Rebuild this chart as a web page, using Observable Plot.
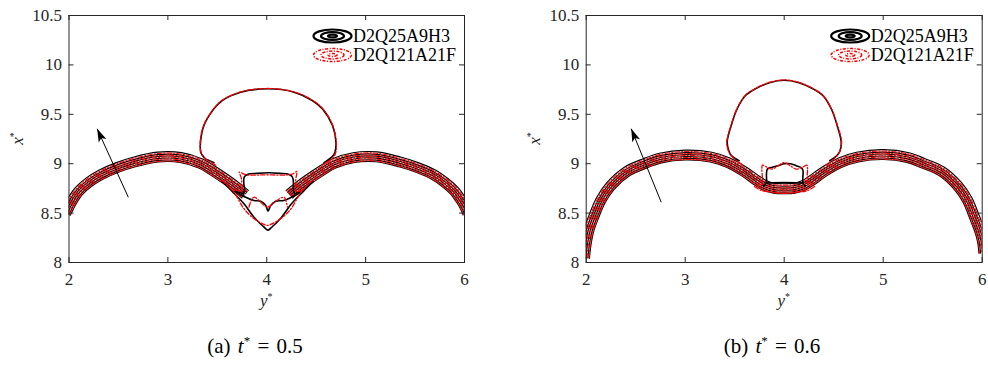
<!DOCTYPE html>
<html><head><meta charset="utf-8">
<script src="https://cdn.jsdelivr.net/npm/d3@7"></script>
<script src="https://cdn.jsdelivr.net/npm/@observablehq/plot@0.6"></script>
<style>
body{margin:0;background:#fff;}
#wrap{position:relative;width:988px;height:374px;overflow:hidden;font-family:'Liberation Serif','Times New Roman','DejaVu Serif',serif;}
.panel{position:absolute;top:0;}
.panel text{font-family:'Liberation Serif','Times New Roman','DejaVu Serif',serif;}
.cap{position:absolute;top:333px;font-size:21px;line-height:26px;word-spacing:2px;color:#000;white-space:nowrap;transform:translateX(-50%);}
.cap sup{font-size:13px;vertical-align:8px;line-height:0;}
</style></head><body>
<div id="wrap"></div>
<script>
// ---------- shared ----------
const xTicks = [2, 3, 4, 5, 6];
const yTicks = [8, 8.5, 9, 9.5, 10, 10.5];
const legendNames = ["D2Q25A9H3", "D2Q121A21F"];
const captionTags = ["(a)", "(b)"];
const captionTimes = ["0.5", "0.6"];
// contour levels across the interface band (perpendicular offsets, data units)
const bandBlackOffsets = [0.052, 0.027, 0.008, -0.012, -0.032, -0.048];
const bandRedOffsets = [0.038, 0.017, -0.002, -0.022, -0.042];

// ---------- panel (a) t* = 0.5 : points are [y*, x*] ----------
const bandLeftA = [[1.97,8.50],[2.0,8.56],[2.05,8.65],[2.1,8.72],[2.2,8.81],[2.32,8.885],[2.49,8.96],[2.66,9.015],[2.9,9.065],[3.13,9.06],[3.33,9.0],[3.45,8.93],[3.6,8.83],[3.72,8.74],[3.78,8.69]];
const bandRightA = [[4.23,8.69],[4.29,8.74],[4.41,8.83],[4.56,8.93],[4.68,9.0],[4.88,9.06],[5.11,9.068],[5.35,9.015],[5.52,8.96],[5.69,8.885],[5.8,8.81],[5.9,8.72],[5.95,8.65],[6.0,8.57],[6.03,8.50]];
const capA = [[3.466,9.01],[3.41,9.035],[3.38,9.05],[3.345,9.09],[3.332,9.117],[3.33,9.218],[3.365,9.387],[3.466,9.555],[3.55,9.64],[3.737,9.724],[4.007,9.758],[4.277,9.724],[4.46,9.64],[4.564,9.555],[4.665,9.387],[4.70,9.218],[4.69,9.117],[4.67,9.08],[4.63,9.045],[4.58,9.01]];
const capARed = [[3.485,8.985],[3.43,9.02],[3.38,9.048],[3.342,9.095],[3.327,9.218],[3.362,9.387],[3.464,9.557],[3.55,9.643],[3.737,9.727],[4.007,9.761],[4.277,9.727],[4.46,9.643],[4.566,9.557],[4.668,9.387],[4.703,9.218],[4.694,9.1],[4.655,9.045],[4.605,9.015],[4.56,8.985]];
const boxA = [[3.70,8.72],[3.76,8.70],[3.775,8.74],[3.768,8.80],[3.772,8.864],[3.804,8.891],[3.9,8.902],[4.023,8.908],[4.13,8.902],[4.226,8.891],[4.26,8.864],[4.27,8.80],[4.268,8.74],[4.285,8.70],[4.34,8.72]];
const wA = [[3.68,8.72],[3.77,8.668],[3.871,8.628],[3.939,8.621],[3.99,8.577],[4.013,8.52],[4.04,8.577],[4.091,8.621],[4.17,8.628],[4.25,8.66],[4.34,8.71]];
const vA = [[3.55,8.82],[3.65,8.72],[3.77,8.594],[3.871,8.459],[3.973,8.357],[4.013,8.328],[4.05,8.357],[4.15,8.459],[4.25,8.594],[4.37,8.72],[4.47,8.82]];
const boxARed = [[3.68,8.74],[3.745,8.72],[3.748,8.80],[3.742,8.86],[3.722,8.915],[3.76,8.90],[3.80,8.886],[3.9,8.885],[4.0,8.888],[4.1,8.885],[4.2,8.886],[4.265,8.898],[4.305,8.921],[4.298,8.87],[4.29,8.80],[4.295,8.72],[4.35,8.73]];
const mARed = [[3.82,8.56],[3.84,8.62],[3.872,8.661],[3.93,8.62],[3.975,8.575],[4.007,8.56],[4.04,8.575],[4.09,8.62],[4.176,8.661],[4.195,8.62],[4.21,8.56]];
const uARed = [[3.55,8.83],[3.669,8.71],[3.77,8.544],[3.872,8.443],[3.973,8.385],[4.007,8.375],[4.04,8.385],[4.14,8.443],[4.245,8.544],[4.345,8.71],[4.46,8.83]];
const arrowTailA = [2.60, 8.66];
const arrowHeadA = [2.285, 9.353];

// ---------- panel (b) t* = 0.6 ----------
const bandB = [[1.985,8.05],[2.0,8.18],[2.03,8.33],[2.077,8.46],[2.15,8.63],[2.245,8.77],[2.414,8.92],[2.59,9.0],[2.75,9.055],[3.0,9.085],[3.26,9.065],[3.43,9.01],[3.6,8.915],[3.72,8.83],[3.80,8.78],[3.9,8.75],[4.0,8.745],[4.1,8.75],[4.2,8.78],[4.28,8.83],[4.4,8.915],[4.57,9.01],[4.74,9.065],[5.0,9.09],[5.25,9.06],[5.41,9.0],[5.59,8.92],[5.755,8.77],[5.85,8.63],[5.92,8.46],[5.97,8.33],[6.0,8.22],[6.015,8.10]];
const capB = [[3.545,9.03],[3.50,9.055],[3.46,9.09],[3.44,9.134],[3.424,9.218],[3.465,9.387],[3.525,9.556],[3.609,9.69],[3.71,9.758],[3.85,9.82],[4.0,9.845],[4.15,9.82],[4.29,9.758],[4.39,9.69],[4.475,9.556],[4.535,9.387],[4.576,9.218],[4.565,9.134],[4.54,9.09],[4.50,9.055],[4.46,9.03]];
const capBRed = [[3.576,8.99],[3.52,9.03],[3.47,9.075],[3.44,9.12],[3.42,9.218],[3.462,9.387],[3.523,9.558],[3.607,9.692],[3.71,9.761],[3.85,9.823],[4.0,9.848],[4.15,9.823],[4.29,9.761],[4.392,9.692],[4.477,9.558],[4.538,9.387],[4.58,9.218],[4.56,9.12],[4.53,9.075],[4.48,9.03],[4.43,8.99]];
const boxB = [[3.79,8.775],[3.818,8.80],[3.821,8.90],[3.83,8.945],[3.88,8.965],[3.946,8.982],[4.0,8.999],[4.064,8.999],[4.12,8.98],[4.175,8.958],[4.19,8.93],[4.19,8.80],[4.215,8.775]];
const boxBottomB = [[3.822,8.805],[4.0,8.808],[4.188,8.805]];
const boxBRed = [[3.74,8.78],[3.775,8.80],[3.774,8.95],[3.78,8.985],[3.83,8.962],[3.88,8.946],[3.94,8.98],[4.0,9.012],[4.06,8.98],[4.12,8.946],[4.18,8.962],[4.23,8.985],[4.236,8.95],[4.235,8.80],[4.27,8.78]];
const uBRed = [[3.70,8.77],[3.768,8.729],[3.87,8.712],[4.003,8.70],[4.135,8.712],[4.239,8.729],[4.306,8.77]];
const arrowTailB = [2.758, 8.61];
const arrowHeadB = [2.455, 9.354];

// ---------- helpers ----------
function offsetLine(pts, d) {
  return pts.map((p, i) => {
    const a = pts[Math.max(0, i - 1)], b = pts[Math.min(pts.length - 1, i + 1)];
    let tx = b[0] - a[0], ty = b[1] - a[1];
    const L = Math.hypot(tx, ty); tx /= L; ty /= L;
    return [p[0] - ty * d, p[1] + tx * d];
  });
}
function rows(pts, id) { return pts.map(([h, v]) => ({h, v, id})); }

const arrowSymbol = { draw(ctx) { ctx.moveTo(0, 0); ctx.lineTo(4.2, 13); ctx.lineTo(0, 10); ctx.lineTo(-4.2, 13); ctx.closePath(); } };

const INK = "#262626";
const FONT = "'Liberation Serif','Times New Roman','DejaVu Serif',serif";
const TOP = 15, BOTTOM = 262, H = 318, W = 494;

function panel(cfg) {
  const plotW = W - cfg.ml - cfg.mr, plotH = BOTTOM - TOP;
  const bandBlack = [], bandRed = [], black = [], red = [];
  cfg.bands.forEach((b, bi) => {
    bandBlackOffsets.forEach((d, k) => bandBlack.push(...rows(offsetLine(b, d), `bb${bi}_${k}`)));
    bandRedOffsets.forEach((d, k) => bandRed.push(...rows(offsetLine(b, d), `br${bi}_${k}`)));
  });
  cfg.blackCurves.forEach((c, i) => black.push(...rows(c, `b${i}`)));
  cfg.redCurves.forEach((c, i) => red.push(...rows(c, `r${i}`)));
  const angle = Math.atan2(cfg.head[0] - cfg.tail[0], cfg.head[1] - cfg.tail[1]) * 180 / Math.PI;
  const dash = "4.5,2,1.2,2";
  const svg = Plot.plot({
    width: W, height: H,
    marginLeft: cfg.ml, marginRight: cfg.mr, marginTop: TOP, marginBottom: H - BOTTOM,
    x: {domain: [2, 6]},
    y: {domain: [8, 10.5]},
    style: {fontFamily: FONT, fontSize: "17px", color: INK, background: "#fff", overflow: "visible"},
    marks: [
      Plot.line(bandBlack, {x: "h", y: "v", z: "id", stroke: "#000", strokeWidth: 1.15, curve: "catmull-rom", clip: true}),
      Plot.line(bandRed, {x: "h", y: "v", z: "id", stroke: "#ff0000", strokeWidth: 1.1, strokeDasharray: dash, curve: "catmull-rom", clip: true}),
      Plot.line(black, {x: "h", y: "v", z: "id", stroke: "#000", strokeWidth: 1.6, curve: "catmull-rom", clip: true}),
      Plot.line(red, {x: "h", y: "v", z: "id", stroke: "#ff0000", strokeWidth: 1.3, strokeDasharray: dash, curve: "catmull-rom", clip: true}),
      Plot.link([cfg], {x1: d => d.tail[0], y1: d => d.tail[1], x2: d => d.head[0], y2: d => d.head[1], stroke: "#000", strokeWidth: 1}),
      Plot.dot([cfg.head], {x: d => d[0], y: d => d[1], symbol: arrowSymbol, r: 5, rotate: angle, fill: "#000", stroke: "none"}),
      Plot.frame({stroke: INK, strokeWidth: 1}),
      Plot.tickX(xTicks, {x: d => d, insetTop: plotH - 5, stroke: INK}),
      Plot.tickX(xTicks, {x: d => d, insetBottom: plotH - 5, stroke: INK}),
      Plot.tickY(yTicks, {y: d => d, insetRight: plotW - 5, stroke: INK}),
      Plot.tickY(yTicks, {y: d => d, insetLeft: plotW - 5, stroke: INK}),
      Plot.axisX(xTicks, {anchor: "bottom", tickSize: 0, tickPadding: 10, label: null, fontSize: 17, tickFormat: d => String(d)}),
      Plot.axisY(yTicks, {anchor: "left", tickSize: 0, tickPadding: 7, label: null, fontSize: 17, tickFormat: d => String(d)})
    ]
  });
  const s = d3.select(svg);
  const right = W - cfg.mr;
  // legend
  const lg = s.append("g").attr("text-anchor", "start");
  const icons = [
    {cy: 36, color: "#000", dash: null, sw: 2.2},
    {cy: 55, color: "#ff0000", dash: "3,1.5,1,1.5", sw: 1.5}
  ];
  icons.forEach((ic, i) => {
    const cx = right - 131.5;
    [[19, 6.5], [11.5, 3.9], [4.5, 1.4]].forEach(([rx, ry]) => {
      lg.append("ellipse").attr("cx", cx).attr("cy", ic.cy).attr("rx", rx).attr("ry", ry)
        .attr("fill", "none").attr("stroke", ic.color).attr("stroke-width", ic.sw)
        .attr("stroke-dasharray", ic.dash);
    });
    lg.append("text").attr("x", right - 111).attr("y", ic.cy + 6).attr("font-size", 18)
      .attr("text-anchor", "start").attr("fill", "#000").style("font-family", FONT).text(legendNames[i]);
  });
  // axis labels
  const cxPlot = cfg.ml + plotW / 2;
  const xl = s.append("text").attr("x", cxPlot).attr("y", 306).attr("text-anchor", "middle")
    .attr("font-size", 17).attr("fill", INK).style("font-family", FONT);
  xl.append("tspan").attr("font-style", "italic").text("y");
  xl.append("tspan").attr("font-size", 10).attr("dy", -6).text("*");
  const yl = s.append("text").attr("transform", `translate(${cfg.ml - 46},${(TOP + BOTTOM) / 2}) rotate(-90)`)
    .attr("text-anchor", "middle").attr("font-size", 17).attr("fill", INK).style("font-family", FONT);
  yl.append("tspan").attr("font-style", "italic").text("x");
  yl.append("tspan").attr("font-size", 10).attr("dy", -6).text("*");
  svg.classList.add("panel");
  svg.style.left = cfg.left + "px";
  return svg;
}

const wrap = document.getElementById("wrap");
wrap.appendChild(panel({
  left: 0, ml: 68.5, mr: 30,
  bands: [bandLeftA, bandRightA],
  blackCurves: [capA, boxA, wA, vA],
  redCurves: [capARed, boxARed, mARed, uARed],
  tail: arrowTailA, head: arrowHeadA
}));
wrap.appendChild(panel({
  left: 494, ml: 91.7, mr: 6.3,
  bands: [bandB],
  blackCurves: [capB, boxB, boxBottomB],
  redCurves: [capBRed, boxBRed, uBRed],
  tail: arrowTailB, head: arrowHeadB
}));
[255, 772].forEach((cx, i) => {
  const d = document.createElement("div");
  d.className = "cap";
  d.style.left = cx + "px";
  d.innerHTML = `${captionTags[i]} <i>t</i><sup>*</sup> = ${captionTimes[i]}`;
  wrap.appendChild(d);
});
</script>
</body></html>
